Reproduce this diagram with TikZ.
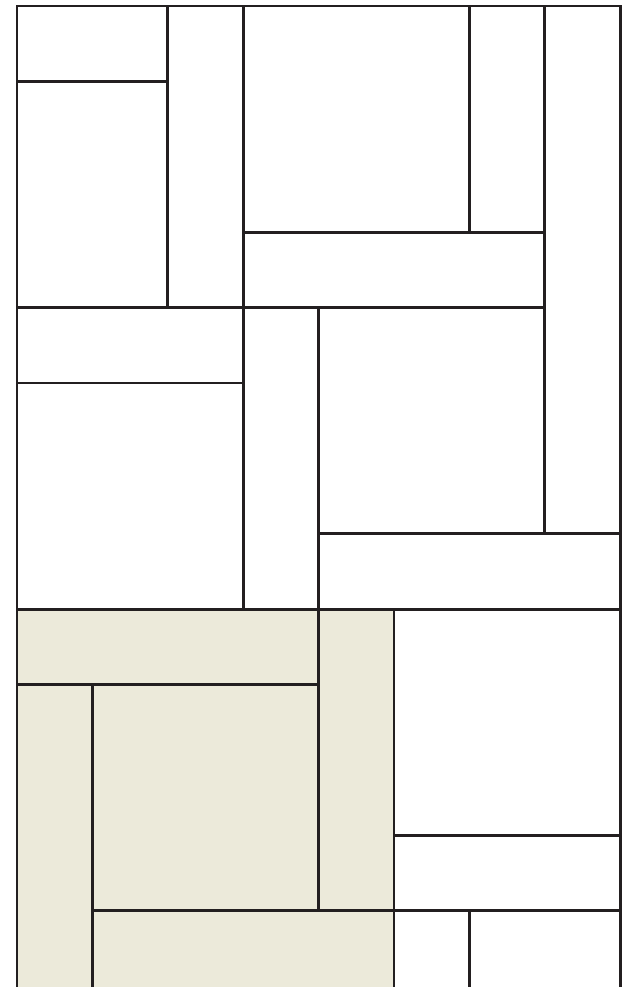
\documentclass[tikz,border=0pt]{standalone}
\usepackage{xcolor}
\definecolor{tileink}{RGB}{35,31,32}
\definecolor{tilesand}{RGB}{236,234,218}
\begin{document}
\begin{tikzpicture}[
  yscale=-1,
  edge/.style={draw=tileink,line width=1.1pt},
]
  \useasboundingbox (-0.2255,-0.0796) rectangle (8.146,13.01);

  % Shaded square, lower left
  \fill[tilesand] (0,8) rectangle (5,13.2);

  % Outer frame (open at the bottom)
  \draw[edge] (0,13.2) -- (0,0) -- (8,0) -- (8,13.2);

  % Upper block
  \draw[edge] (0,1) -- (2,1);
  \draw[edge] (2,0) -- (2,4);
  \draw[edge] (3,0) -- (3,8);
  \draw[edge] (6,0) -- (6,3);
  \draw[edge] (7,0) -- (7,7);
  \draw[edge] (3,3) -- (7,3);
  \draw[edge] (0,4) -- (7,4);

  % Middle block
  \draw[edge] (0,5) -- (3,5);
  \draw[edge] (4,4) -- (4,12);
  \draw[edge] (4,7) -- (8,7);
  \draw[edge] (0,8) -- (8,8);

  % Lower block
  \draw[edge] (0,9) -- (4,9);
  \draw[edge] (1,9) -- (1,13.2);
  \draw[edge] (5,8) -- (5,13.2);
  \draw[edge] (5,11) -- (8,11);
  \draw[edge] (1,12) -- (8,12);
  \draw[edge] (6,12) -- (6,13.2);
\end{tikzpicture}
\end{document}
